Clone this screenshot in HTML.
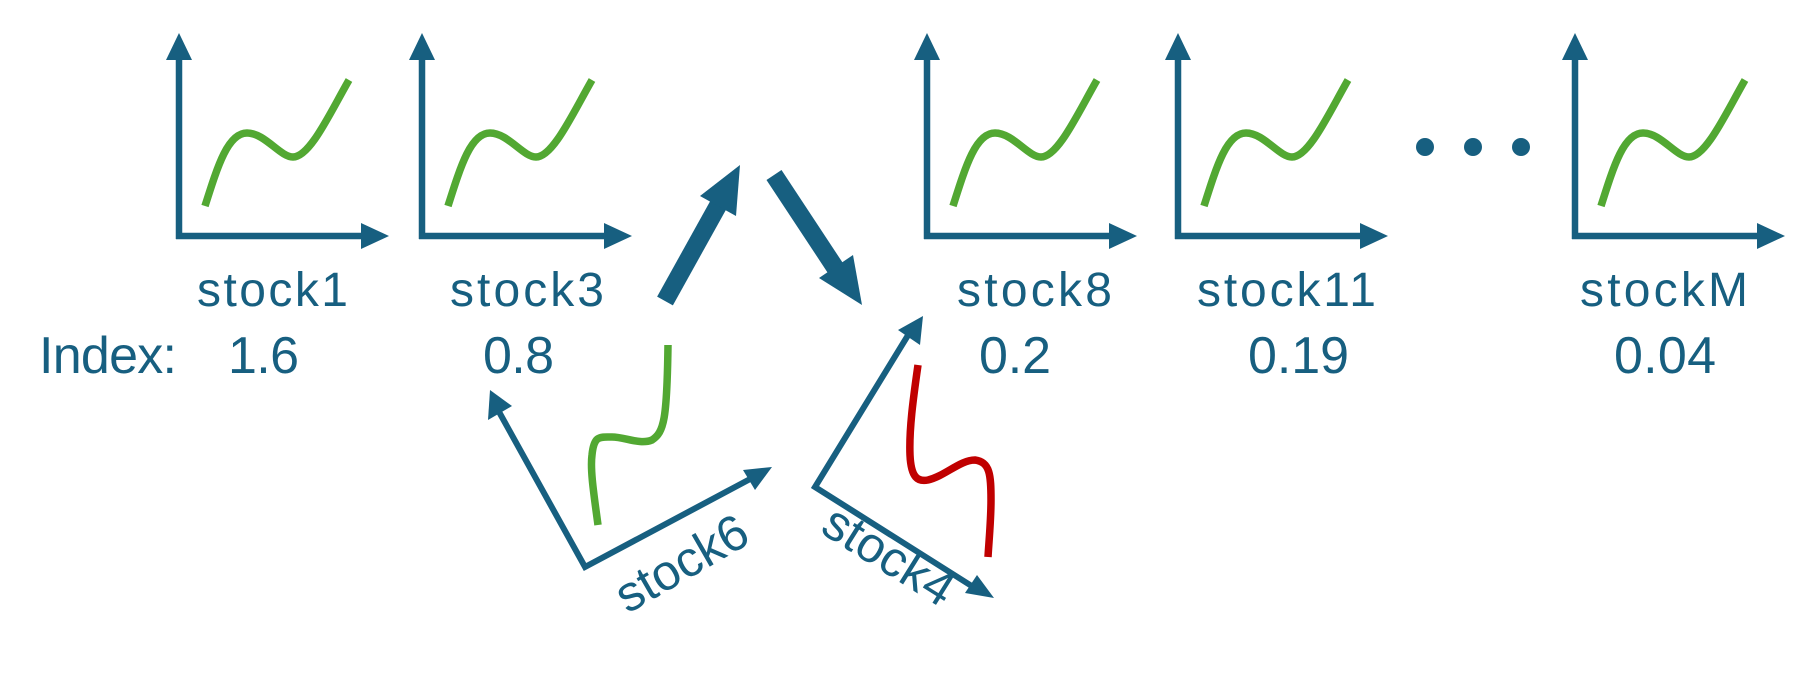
<!DOCTYPE html>
<html><head><meta charset="utf-8"><style>
html,body{margin:0;padding:0;background:#fff;}
svg{display:block;}
text{font-family:"Liberation Sans",sans-serif;fill:#175f80;}
</style></head><body>
<svg width="1819" height="692" viewBox="0 0 1819 692" xmlns="http://www.w3.org/2000/svg">
<defs>
<g id="chart">
  <line x1="179" y1="56" x2="179" y2="239" stroke="#175f80" stroke-width="6.5"/>
  <polygon points="179,33 166,60 192,60" fill="#175f80"/>
  <line x1="176" y1="236" x2="364" y2="236" stroke="#175f80" stroke-width="6.5"/>
  <polygon points="389,236 361,223 361,249" fill="#175f80"/>
  <path d="M205,206 C218,165 228,133 247,133 C265,133 280,157 293,157 C310,157 330,113 349,80" fill="none" stroke="#52a832" stroke-width="7.5"/>
</g>
</defs>
<use href="#chart"/>
<use href="#chart" transform="translate(243,0)"/>
<use href="#chart" transform="translate(748,0)"/>
<use href="#chart" transform="translate(999,0)"/>
<use href="#chart" transform="translate(1396,0)"/>

<circle cx="1425" cy="147" r="9" fill="#175f80"/>
<circle cx="1473" cy="147" r="9" fill="#175f80"/>
<circle cx="1521" cy="147" r="9" fill="#175f80"/>

<g font-size="48">
<text x="197" y="306" textLength="151" lengthAdjust="spacing">stock1</text>
<text x="450" y="306" textLength="154" lengthAdjust="spacing">stock3</text>
<text x="957" y="306" textLength="155" lengthAdjust="spacing">stock8</text>
<text x="1197" y="306" textLength="179" lengthAdjust="spacing">stock11</text>
<text x="1580" y="306" textLength="168" lengthAdjust="spacing">stockM</text>
</g>
<g font-size="52">
<text x="39" y="373" textLength="138" lengthAdjust="spacing">Index:</text>
<text x="228" y="373" textLength="71" lengthAdjust="spacing">1.6</text>
<text x="483" y="373" textLength="71" lengthAdjust="spacing">0.8</text>
<text x="979" y="373" textLength="72" lengthAdjust="spacing">0.2</text>
<text x="1248" y="373" textLength="101" lengthAdjust="spacing">0.19</text>
<text x="1614" y="373" textLength="102" lengthAdjust="spacing">0.04</text>
</g>

<!-- big arrows -->
<line x1="665" y1="301" x2="720" y2="202" stroke="#175f80" stroke-width="18"/>
<polygon points="740,165 700,196 736,216" fill="#175f80"/>
<line x1="774" y1="175" x2="838" y2="272" stroke="#175f80" stroke-width="18"/>
<polygon points="862,305 819,278 853,255" fill="#175f80"/>

<!-- stock6 axes -->
<polyline points="498,410 585,567 752,478" fill="none" stroke="#175f80" stroke-width="6" stroke-linejoin="miter"/>
<polygon points="490,390 488,420 512,406" fill="#175f80"/>
<polygon points="772,467 743,470 755,490" fill="#175f80"/>
<path d="M598,525 C594,495 590,470 592,455 C594,435 600,437 612,437 C625,437 640,445 652,440 C664,432 667,420 668,345" fill="none" stroke="#52a832" stroke-width="7.5"/>
<text x="0" y="0" font-size="50" text-anchor="middle" transform="translate(690,578) rotate(-30)">stock6</text>

<!-- stock4 axes -->
<polyline points="910,332 815,487 978,590" fill="none" stroke="#175f80" stroke-width="6" stroke-linejoin="miter"/>
<polygon points="923,316 898,330 920,345" fill="#175f80"/>
<polygon points="994,598 965,593 977,575" fill="#175f80"/>
<path d="M918,365 C913,400 909,430 910,455 C911,478 918,482 928,480 C945,476 960,460 975,460 C990,462 991,475 991,500 C991,520 989,540 988,557" fill="none" stroke="#c00000" stroke-width="7.5"/>
<text x="0" y="0" font-size="50" text-anchor="middle" transform="translate(880,570) rotate(32)">stock4</text>
</svg>
</body></html>
